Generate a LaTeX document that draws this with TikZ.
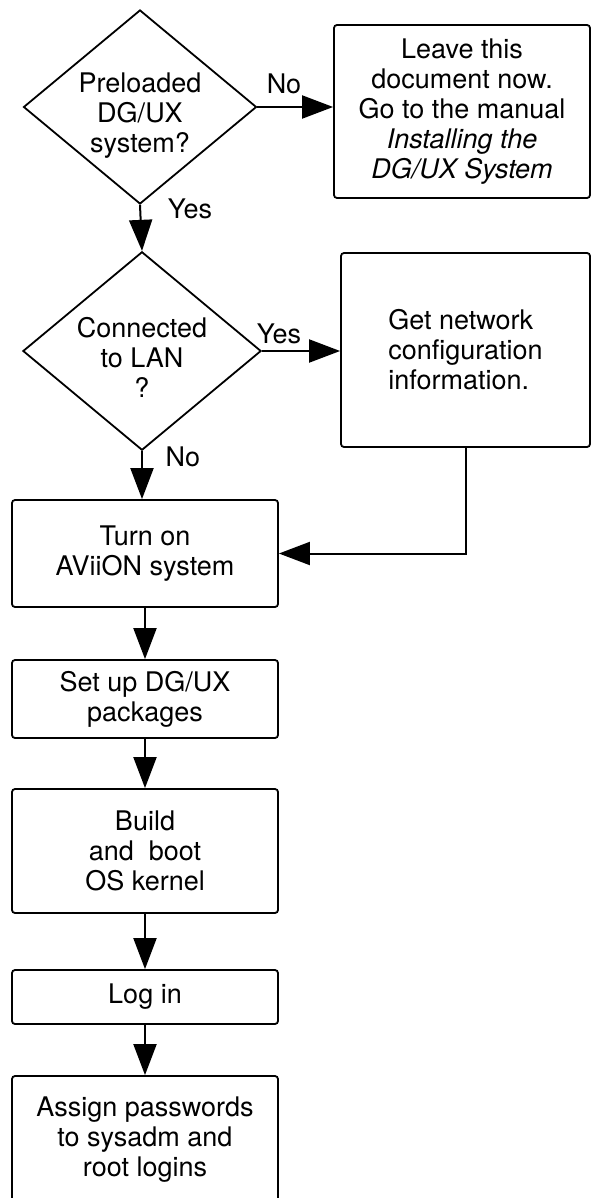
\documentclass[tikz,border=0pt]{standalone}
\usepackage{fontspec}
\setmainfont{TeX Gyre Heros}
\usetikzlibrary{shapes.geometric,arrows.meta}
% question text sits a little below the middle of the diamond
\newcommand{\qtext}[1]{\raisebox{-10pt}[\height][\depth]{\begin{tabular}{@{}c@{}}#1\end{tabular}}}

\begin{document}
\begin{tikzpicture}[x=1pt,y=-1pt,
   font=\fontsize{27}{30}\selectfont,
   dec/.style={diamond,draw,line width=1.8pt,aspect=1.2,inner sep=0pt,
               minimum width=233pt,minimum height=194pt},
   stepbox/.style={rectangle,draw,line width=1.8pt,rounded corners=3pt,inner sep=0pt,align=center},
   flow/.style={line width=2pt,-{Triangle[length=31pt,width=23pt]}},
   ans/.style={inner sep=0pt}]
\useasboundingbox (0,0) rectangle (592,1198);

%% ---- decisions ----
\node[dec] (preload) at (140,107) {\qtext{Preloaded\\DG/UX\\system?}};
\node[dec] (lan) at (142,351) {\qtext{Connected\\to LAN\\?}};

%% ---- right column ----
\node[stepbox,minimum width=256pt,minimum height=173pt] (leave) at (462,111.5)
  {Leave this\\document now.\\Go to the manual\\\textit{Installing the}\\\textit{DG/UX System}};
\node[stepbox,align=left,minimum width=249pt,minimum height=194pt] (netinfo) at (465.5,350)
  {Get network\\configuration\\information.};

%% ---- main column ----
\node[stepbox,minimum width=266pt,minimum height=107pt] (turnon) at (145,553.5) {Turn on\\AViiON system};
\node[stepbox,minimum width=266pt,minimum height=78pt] (setup) at (145,699) {Set up DG/UX\\packages};
\node[stepbox,minimum width=266pt,minimum height=124pt] (build) at (145,851) {Build\\and~~boot\\OS kernel};
\node[stepbox,minimum width=266pt,minimum height=54pt] (login) at (145,997) {Log in};
\node[stepbox,minimum width=266pt,minimum height=128pt] (assign) at (145,1140)
  {Assign passwords\\to sysadm and\\root logins};

%% ---- answers ----
\node[ans] (no1) at (284,84) {No};
\node[ans] (yes1) at (190,209) {Yes};
\node[ans] (yes2) at (279,334) {Yes};
\node[ans] (no2) at (183,457) {No};

%% ---- connectors ----
\draw[flow] (preload.east) -- (preload.east -| leave.west);
\draw[flow] (preload.south) -- (lan.north);
\draw[flow] (lan.east) -- (lan.east -| netinfo.west);
\draw[flow] (lan.south) -- (lan.south |- turnon.north);
\draw[flow] (netinfo.south) |- (turnon.east);
\draw[flow] (turnon) -- (setup);
\draw[flow] (setup) -- (build);
\draw[flow] (build) -- (login);
\draw[flow] (login) -- (assign);
\end{tikzpicture}
\end{document}
